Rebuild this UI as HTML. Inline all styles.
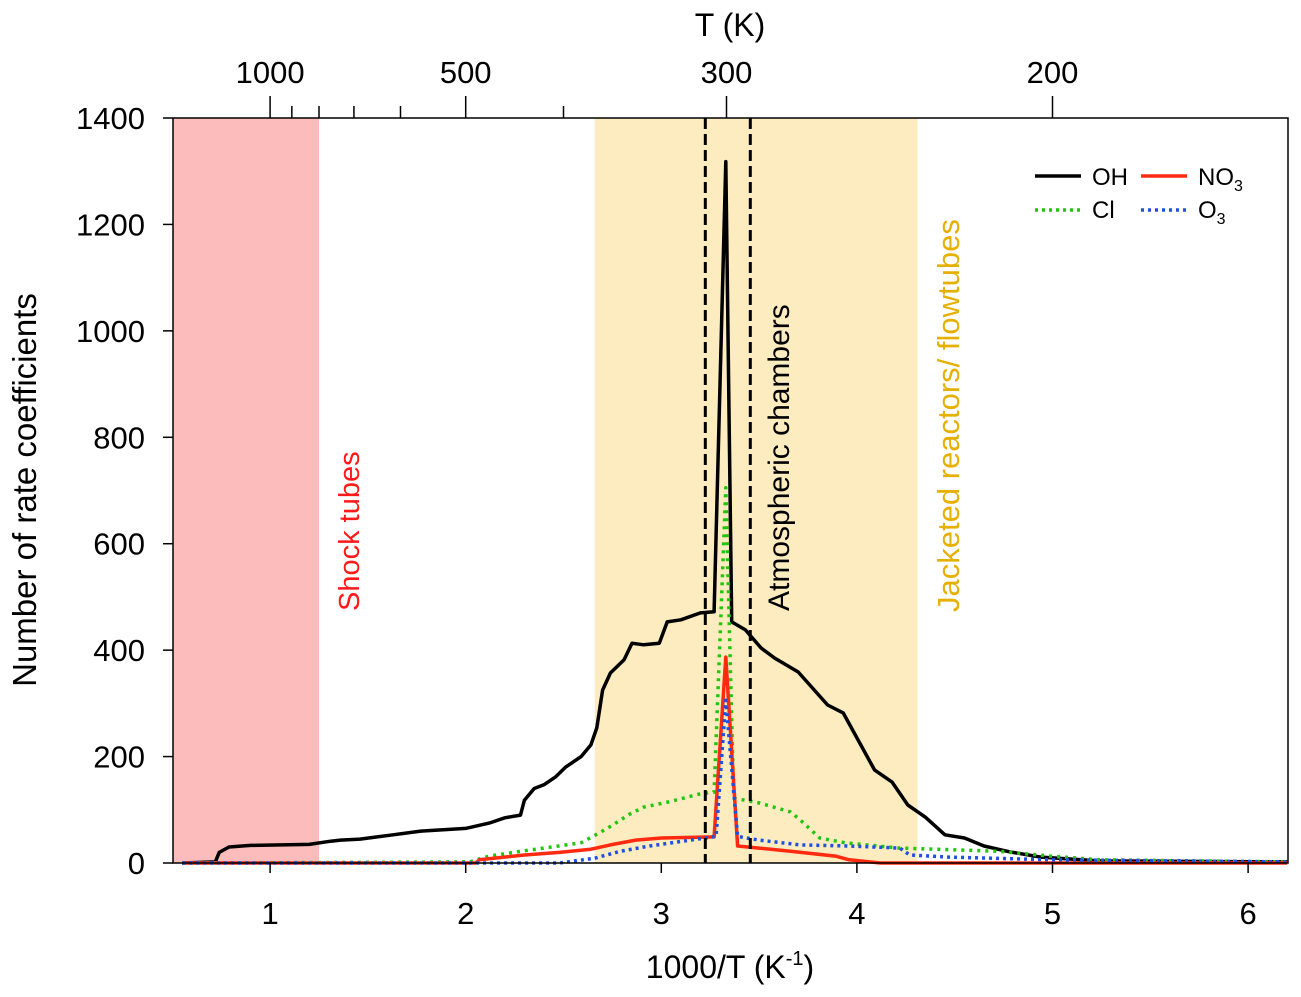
<!DOCTYPE html>
<html><head><meta charset="utf-8"><style>
html,body{margin:0;padding:0;background:#fff;}
svg{display:block;font-family:"Liberation Sans",sans-serif;}
</style></head><body>
<svg id="chart" width="1301" height="997" viewBox="0 0 1301 997" xmlns="http://www.w3.org/2000/svg">
<g id="bg"></g><g id="series"></g><g id="axes"></g>
</svg>
<script>
const xTicks=[1,2,3,4,5,6];
const yTicks=[0,200,400,600,800,1000,1200,1400];
const topMajor=[1000,500,300,200];
const topMinor=[900,800,700,600,400];
const ohX=[0.55,0.72,0.74,0.79,0.9,1.2,1.31,1.36,1.46,1.61,1.77,2.0,2.12,2.2,2.28,2.3,2.35,2.4,2.46,2.51,2.59,2.64,2.67,2.7,2.74,2.81,2.85,2.91,2.99,3.03,3.1,3.2,3.27,3.33,3.36,3.43,3.51,3.58,3.7,3.85,3.93,4.09,4.18,4.26,4.35,4.45,4.55,4.65,4.78,4.94,5.24,6.2];
const ohY=[0,2,20,30,33,35,41,43,45,52,60,65,75,85,90,118,140,147,162,180,200,222,254,325,357,382,413,410,413,453,457,470,472,1318,453,438,404,385,359,297,282,175,152,109,86,53,47,32,21,11,4,2];
const clX=[0.55,2.02,2.12,2.28,2.4,2.59,2.69,2.75,2.84,2.91,3.04,3.2,3.27,3.33,3.37,3.5,3.66,3.71,3.81,3.94,4.22,4.73,4.99,5.24,6.2];
const clY=[0,2,13,22,28,38,58,71,92,105,115,130,133,705,122,113,96,81,47,38,28,22,13,6,2];
const no3X=[0.55,2.05,2.07,2.3,2.48,2.64,2.74,2.87,3.0,3.27,3.33,3.39,3.5,3.66,3.89,3.96,4.12,6.2];
const no3Y=[0,0,6,15,20,26,34,43,47,49,387,32,28,22,13,6,0,0];
const o3X=[0.55,2.48,2.66,2.79,2.94,3.15,3.28,3.33,3.39,3.5,3.71,3.96,4.22,4.27,4.47,4.99,6.2];
const o3Y=[0,0,9,22,32,43,50,306,50,43,34,32,28,15,11,6,2];
const regions=[[0.5,1.25,'#fcbcbc'],[2.66,4.31,'#fdecc0']];
const dashes=[3.225,3.455];

const L=173,R=1288,T=118,B=863;
const X=v=>74.5+195.6*v;
const Y=v=>B-(B-T)*v/1400;
const NS='http://www.w3.org/2000/svg';
function mk(tag,attrs,parent,txt){const e=document.createElementNS(NS,tag);for(const k in attrs)e.setAttribute(k,attrs[k]);if(txt!==undefined)e.textContent=txt;parent.appendChild(e);return e;}
const bg=document.getElementById('bg'),sg=document.getElementById('series'),ax=document.getElementById('axes');
regions.forEach((r,i)=>{const e=mk('rect',{x:Math.max(L,X(r[0])),y:T,width:X(r[1])-Math.max(L,X(r[0])),height:B-T,fill:r[2]},bg);

});
function line(xs,ys,color,dash,name,w){const d=xs.map((x,i)=>(i?'L':'M')+X(x).toFixed(1)+','+Y(ys[i]).toFixed(1)).join(' ');
const e=mk('path',{d:d,fill:'none',stroke:color,'stroke-width':w,'stroke-dasharray':dash||'none','stroke-linejoin':'round'},sg);

}
line(ohX,ohY,'#000',null,'oh-series',3.5);
line(clX,clY,'#22c40e','3 5','cl-series',3.5);
line(no3X,no3Y,'#ff2a10',null,'no3-series',3.5);
line(o3X,o3Y,'#2050e0','3 4','o3-series',3.5);
dashes.forEach((v,i)=>{const e=mk('line',{x1:X(v),x2:X(v),y1:T,y2:B,stroke:'#000','stroke-width':3,'stroke-dasharray':'11 5'},sg);

});
const fr=mk('rect',{x:L,y:T,width:R-L,height:B-T,fill:'none',stroke:'#000','stroke-width':1.5},ax);


xTicks.forEach(v=>{mk('line',{x1:X(v),x2:X(v),y1:B,y2:B+10,stroke:'#000','stroke-width':1.5},ax);
const t=mk('text',{x:X(v),y:B+61,'font-size':31,'text-anchor':'middle'},ax,String(v));

});
yTicks.forEach(v=>{mk('line',{x1:L-10,x2:L,y1:Y(v),y2:Y(v),stroke:'#000','stroke-width':1.5},ax);
const t=mk('text',{x:L-28,y:Y(v)+11,'font-size':31,'text-anchor':'end'},ax,String(v));

});
topMajor.forEach(v=>{const x=X(1000/v);mk('line',{x1:x,x2:x,y1:T-22,y2:T,stroke:'#000','stroke-width':1.5},ax);
const t=mk('text',{x:x,y:T-35,'font-size':31,'text-anchor':'middle'},ax,String(v));

});
topMinor.forEach(v=>{const x=X(1000/v);mk('line',{x1:x,x2:x,y1:T-12,y2:T,stroke:'#000','stroke-width':1.5},ax);});
</script>
<div style="position:absolute;left:0;top:0;width:1301px;height:997px;pointer-events:none">
<svg width="1301" height="997" style="position:absolute;left:0;top:0">
<text x="730" y="36" font-size="32" text-anchor="middle" font-family="Liberation Sans, sans-serif">T (K)</text>
<text x="730" y="978" font-size="32" text-anchor="middle" font-family="Liberation Sans, sans-serif">1000/T (K<tspan dy="-13" font-size="20">-1</tspan><tspan dy="13">)</tspan></text>
<text transform="translate(36,490) rotate(-90)" font-size="33" text-anchor="middle" font-family="Liberation Sans, sans-serif">Number of rate coefficients</text>
<text transform="translate(359,611) rotate(-90)" font-size="29" fill="#ff1a1a" font-family="Liberation Sans, sans-serif">Shock tubes</text>
<text transform="translate(789,611) rotate(-90)" font-size="30" fill="#000" font-family="Liberation Sans, sans-serif">Atmospheric chambers</text>
<text transform="translate(959,612) rotate(-90)" font-size="31" fill="#e6b000" font-family="Liberation Sans, sans-serif">Jacketed reactors/ flowtubes</text>
<g font-family="Liberation Sans, sans-serif" font-size="24">
<line x1="1035" y1="176" x2="1081" y2="176" stroke="#000" stroke-width="3.5"/><text x="1092" y="185">OH</text>
<line x1="1141" y1="176" x2="1187" y2="176" stroke="#ff2a10" stroke-width="3.5"/><text x="1198" y="185">NO<tspan dy="6" font-size="16">3</tspan></text>
<line x1="1035" y1="210" x2="1081" y2="210" stroke="#22c40e" stroke-width="3.5" stroke-dasharray="3 4"/><text x="1092" y="218">Cl</text>
<line x1="1141" y1="210" x2="1187" y2="210" stroke="#2050e0" stroke-width="3.5" stroke-dasharray="3 4"/><text x="1198" y="218">O<tspan dy="6" font-size="16">3</tspan></text>
</g>
</svg></div>
</body></html>
